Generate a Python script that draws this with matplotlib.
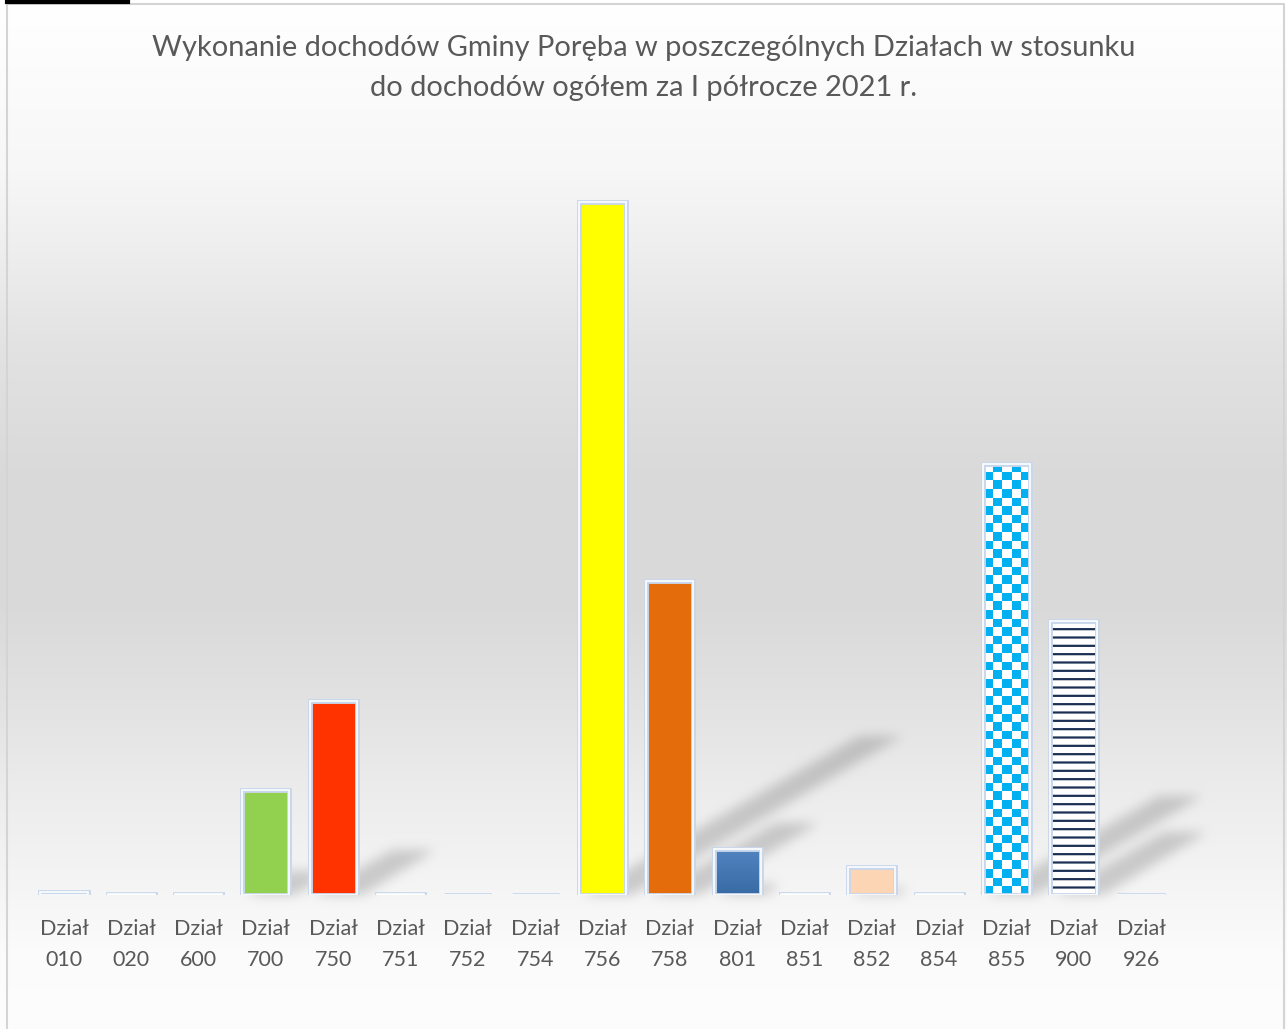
import numpy as np
import matplotlib
matplotlib.use("Agg")
import matplotlib.pyplot as plt
from matplotlib.path import Path
from matplotlib.colors import ListedColormap, to_rgb

plt.rcParams["font.family"] = ["Lato", "DejaVu Sans"]
plt.rcParams["hatch.linewidth"] = 1.6
plt.rcParams["hatch.color"] = "#1b2f52"

# ── data: share of each Dział in total income, % ──
dzialy = ["010", "020", "600", "700", "750", "751", "752", "754", "756",
          "758", "801", "851", "852", "854", "855", "900", "926"]
udzial = [0.14, 0.05, 0.05, 5.0, 9.25, 0.05, 0.0, 0.0, 33.1,
          15.0, 2.2, 0.05, 1.35, 0.05, 20.6, 13.1, 0.0]
kolory = ["#d6dc8a", "#a9c1e3", "#a9c1e3", "#92d050", "#ff3300", "#a9c1e3",
          "#a9c1e3", "#a9c1e3", "#ffff00", "#e46c0a", "#4677b4", "#a9c1e3",
          "#fcd5b4", "#a9c1e3", "#ffffff", "#ffffff", "#a9c1e3"]
tytul = ("Wykonanie dochodów Gminy Poręba w poszczególnych Działach w stosunku\n"
         "do dochodów ogółem za I półrocze 2021 r.")

W, H = 1287, 1029
fig = plt.figure(figsize=(W / 100, H / 100), dpi=100)

# background axes (gradient + shadows), in pixel coordinates
bg = fig.add_axes([0, 0, 1, 1], zorder=-5)
bg.set_xlim(0, W)
bg.set_ylim(0, H)
bg.axis("off")

ax = fig.add_axes([30.3 / W, (H - 895) / H, (1174.7 - 30.3) / W, (895 - 160) / H])
ax.set_facecolor("none")
x = np.arange(len(dzialy))
ax.set_xlim(-0.5, len(dzialy) - 0.5)
ax.set_ylim(0, 35.1)
for s in ax.spines.values():
    s.set_visible(False)
ax.set_yticks([])
ax.set_xticks(x)
ax.set_xticklabels([f"Dział\n{d}" for d in dzialy], fontsize=15.5,
                   color="#595959", linespacing=1.7)
ax.tick_params(axis="x", length=0, pad=17)

# ── gradient background ─────────────────────────────────────────
stops_y = [0, 5, 170, 250, 350, 480, 600, 700, 800, 880, 950, 1029]
stops_v = [255, 255, 247, 238, 226, 217, 217, 226, 237, 244, 251, 253]
rows = np.interp(np.arange(H), stops_y, stops_v) / 255.0  # row 0 = top
img = np.repeat(rows[:, None], W, axis=1)

# ── perspective shadows of the bars ─────────────────────────────
bw = 0.7
yy, xx = np.mgrid[0:H, 0:W]
pts = np.column_stack([xx.ravel() + 0.5, yy.ravel() + 0.5])
mask = np.zeros(H * W)
for xi, v in zip(x, udzial):
    if v < 1:
        continue
    (px0, pyb), (px1, pyt) = ax.transData.transform([(xi - bw / 2, 0), (xi + bw / 2, v)])
    h = pyt - pyb
    dx, dy = 0.40 * h, 0.23 * h
    yb = H - pyb  # image rows go top-down
    poly = [(px0 + 4, yb), (px1 + 6, yb), (px1 + dx, yb - dy), (px0 + dx + 4, yb - dy)]
    mask = np.maximum(mask, Path(poly).contains_points(pts).astype(float))
mask = mask.reshape(H, W)


def box_blur(a, r):
    k = 2 * r + 1
    p = np.pad(a, ((r, r), (r, r)), mode="edge")
    c = np.cumsum(p, axis=0)
    c = np.vstack([c[k - 1:k], c[k:] - c[:-k]]) / k
    c = np.cumsum(c, axis=1)
    c = np.hstack([c[:, k - 1:k], c[:, k:] - c[:, :-k]]) / k
    return c


for _ in range(3):
    mask = box_blur(mask, 5)
img = img * (1 - 0.17 * mask)
bg.imshow(np.dstack([img] * 3), extent=(0, W, 0, H), origin="upper",
          aspect="auto", interpolation="bilinear")

# frame of the chart
bg.plot([7, 7, 1284, 1284], [0, H - 4, H - 4, 0], color="#d4d4d4", lw=1.5)
bg.plot([7, 128], [H - 1.5, H - 1.5], color="black", lw=3)

# ── bars ─────────────────────────────────────────────────────────
bars = ax.bar(x, udzial, width=bw, color=kolory, edgecolor="none", zorder=3)

# Dział 801 - blue gradient
i801 = dzialy.index("801")
b = bars[i801]
c_top, c_bot = np.array(to_rgb("#5284c2")), np.array(to_rgb("#386aa3"))
ax.imshow(np.linspace(0, 1, 50)[:, None],
          extent=(b.get_x(), b.get_x() + bw, 0, udzial[i801]),
          cmap=ListedColormap([c_top * (1 - t) + c_bot * t for t in np.linspace(0, 1, 50)]),
          aspect="auto", zorder=4, origin="upper", interpolation="bilinear")

# Dział 855 - cyan checkerboard
i855 = dzialy.index("855")
b = bars[i855]
(cx0, cy0), (cx1, cy1) = ax.transData.transform([(b.get_x(), 0), (b.get_x() + bw, udzial[i855])])
ncol = int(round((cx1 - cx0) / 8.6))
nrow = int(round((cy1 - cy0) / 8.6))
chk = (np.add.outer(np.arange(nrow), np.arange(ncol)) % 2).astype(float)
ax.imshow(chk, extent=(b.get_x(), b.get_x() + bw, 0, udzial[i855]),
          cmap=ListedColormap(["#ffffff", "#00b0f0"]), aspect="auto",
          interpolation="nearest", zorder=4, origin="upper")

# Dział 900 - white with dark horizontal stripes
i900 = dzialy.index("900")
ax.bar(x[i900], udzial[i900], width=bw, color="white", edgecolor="#1b2f52",
       hatch="--", linewidth=0, zorder=4)

# soft light-blue glow + white inner edge on every bar
ax.bar(x, udzial, width=bw, color="none", edgecolor="#c9d7ec", linewidth=3.5, zorder=5)
ax.bar(x, udzial, width=bw, color="none", edgecolor="#ffffff", linewidth=1.2, zorder=6)

fig.text(0.5, 1 - 68 / H, tytul, ha="center", va="center", fontsize=20.9,
         color="#595959", linespacing=1.7)

fig.savefig("out.png", dpi=100)
